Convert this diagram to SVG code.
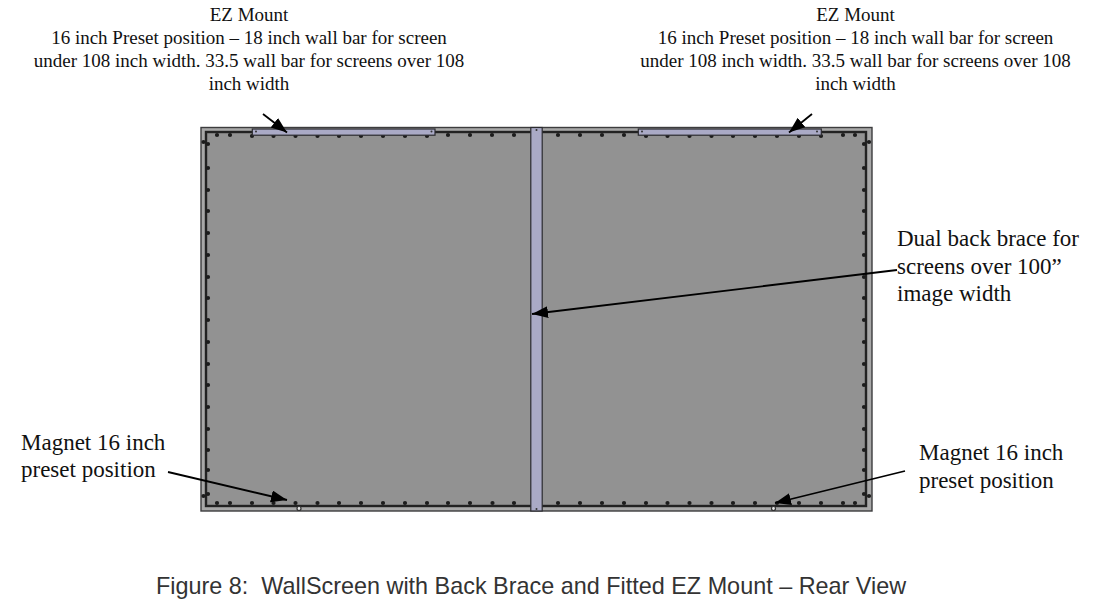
<svg xmlns="http://www.w3.org/2000/svg" width="1096" height="613" viewBox="0 0 1096 613">
<style>
.s{font-family:"Liberation Serif","Times New Roman",serif;fill:#111}
.t{font-size:19px;text-anchor:middle}
.l{font-size:23px}
.c{font-family:"Liberation Sans",Arial,sans-serif;font-size:23.4px;fill:#333}
.d{fill:none;stroke:#1c1c1c;stroke-width:4.2;stroke-linecap:round}
.bar{fill:#aaaac6;stroke:#2b2b2f;stroke-width:1.2}
.a{fill:none;stroke:#000;stroke-width:1.8;marker-end:url(#h)}
.m{fill:#e8e8e8;stroke:#333;stroke-width:1.2}
.p{fill:#333}
</style>
<defs>
<marker id="h" markerUnits="userSpaceOnUse" markerWidth="18" markerHeight="14" refX="16" refY="6" orient="auto"><path d="M0 0L16 6L0 12Z" fill="#000"/></marker>
</defs>
<rect width="1096" height="613" fill="#fff"/>
<g id="screen">
<rect x="201" y="127.500" width="671" height="383.500" fill="#a8a8a8" stroke="#3c3c3e" stroke-width="1.400"/>
<rect x="206" y="132" width="660" height="374" fill="#929292" stroke="#222" stroke-width="2.400"/>
<path class="d" d="M217 135h0M230 135h0M252 136h0M273.500 136h0M295.500 136h0M317.500 136h0M339 136h0M361 136h0M383 136h0M405 136h0M427 136h0M448 135h0M470 135h0M492 135h0M514 135h0M558 135h0M580 135h0M602 135h0M624 135h0M646 136h0M667.500 136h0M689.500 136h0M711.500 136h0M733 136h0M755 136h0M777 136h0M799 136h0M821 136h0M843 135h0M855 135h0"/>
<path class="d" d="M217 503h0M230 503h0M252 503h0M273.500 503h0M295.500 503h0M317.500 503h0M339 503h0M361 503h0M383 503h0M405 503h0M427 503h0M448 503h0M470 503h0M492.500 503h0M514 503h0M558 503h0M580 503h0M602 503h0M624 503h0M646 503h0M667.500 503h0M689.500 503h0M711.500 503h0M733 503h0M755 503h0M777 503h0M799 503h0M821 503h0M843 503h0M855 503h0"/>
<path class="d" d="M208 144h0M208 168h0M208 190h0M208 211h0M208 233h0M208 255h0M208 277h0M208 298h0M208 320h0M208 342h0M208 364h0M208 385h0M208 407h0M208 429h0M208 450h0M208 470h0M208 494h0M203.500 142h0M203.500 496h0"/>
<path class="d" d="M864 144h0M864 168h0M864 190h0M864 211h0M864 233h0M864 255h0M864 277h0M864 298h0M864 320h0M864 342h0M864 364h0M864 385h0M864 407h0M864 429h0M864 450h0M864 470h0M864 494h0M869 142h0M869 496h0"/>
</g>
<g id="back-brace">
<rect class="bar" x="530.800" y="127.500" width="11.400" height="383.500"/>
<circle class="p" cx="536.500" cy="130" r="1"/>
<circle class="p" cx="536.500" cy="509" r="1"/>
</g>
<g id="ez-mount-left">
<rect class="bar" x="252.300" y="129" width="182.700" height="6.200"/>
<circle class="p" cx="256" cy="131.500" r="1"/>
<circle class="p" cx="431.500" cy="131.500" r="1"/>
</g>
<g id="ez-mount-right">
<rect class="bar" x="638.300" y="129" width="183" height="6.200"/>
<circle class="p" cx="642" cy="131.500" r="1"/>
<circle class="p" cx="817" cy="131.500" r="1"/>
</g>
<g id="magnet-left"><circle class="m" cx="299" cy="508.500" r="2"/></g>
<g id="magnet-right"><circle class="m" cx="773.500" cy="508.500" r="2"/></g>
<g id="connectors">
<path class="a" d="M263 114L287 132.500"/>
<path class="a" d="M812 114L789 132.500"/>
<path class="a" d="M897 270L532 314"/>
<path class="a" d="M168 472L287 500"/>
<path class="a" d="M905 471L775 503"/>
</g>
<g id="label-ez-left" class="s t">
<text x="249" y="21">EZ Mount</text>
<text x="249" y="44">16 inch Preset position – 18 inch wall bar for screen</text>
<text x="249" y="67">under 108 inch width. 33.5 wall bar for screens over 108</text>
<text x="249" y="90">inch width</text>
</g>
<g id="label-ez-right" class="s t">
<text x="855.500" y="21">EZ Mount</text>
<text x="855.500" y="44">16 inch Preset position – 18 inch wall bar for screen</text>
<text x="855.500" y="67">under 108 inch width. 33.5 wall bar for screens over 108</text>
<text x="855.500" y="90">inch width</text>
</g>
<g id="label-brace" class="s l">
<text x="897" y="246">Dual back brace for</text>
<text x="897" y="273.500">screens over 100”</text>
<text x="897" y="301">image width</text>
</g>
<g id="label-magnet-left" class="s l">
<text x="21" y="450">Magnet 16 inch</text>
<text x="21" y="477">preset position</text>
</g>
<g id="label-magnet-right" class="s l">
<text x="919" y="460">Magnet 16 inch</text>
<text x="919" y="488">preset position</text>
</g>
<text id="caption" class="c" x="156" y="593.500" xml:space="preserve">Figure 8:  WallScreen with Back Brace and Fitted EZ Mount – Rear View</text>
</svg>
